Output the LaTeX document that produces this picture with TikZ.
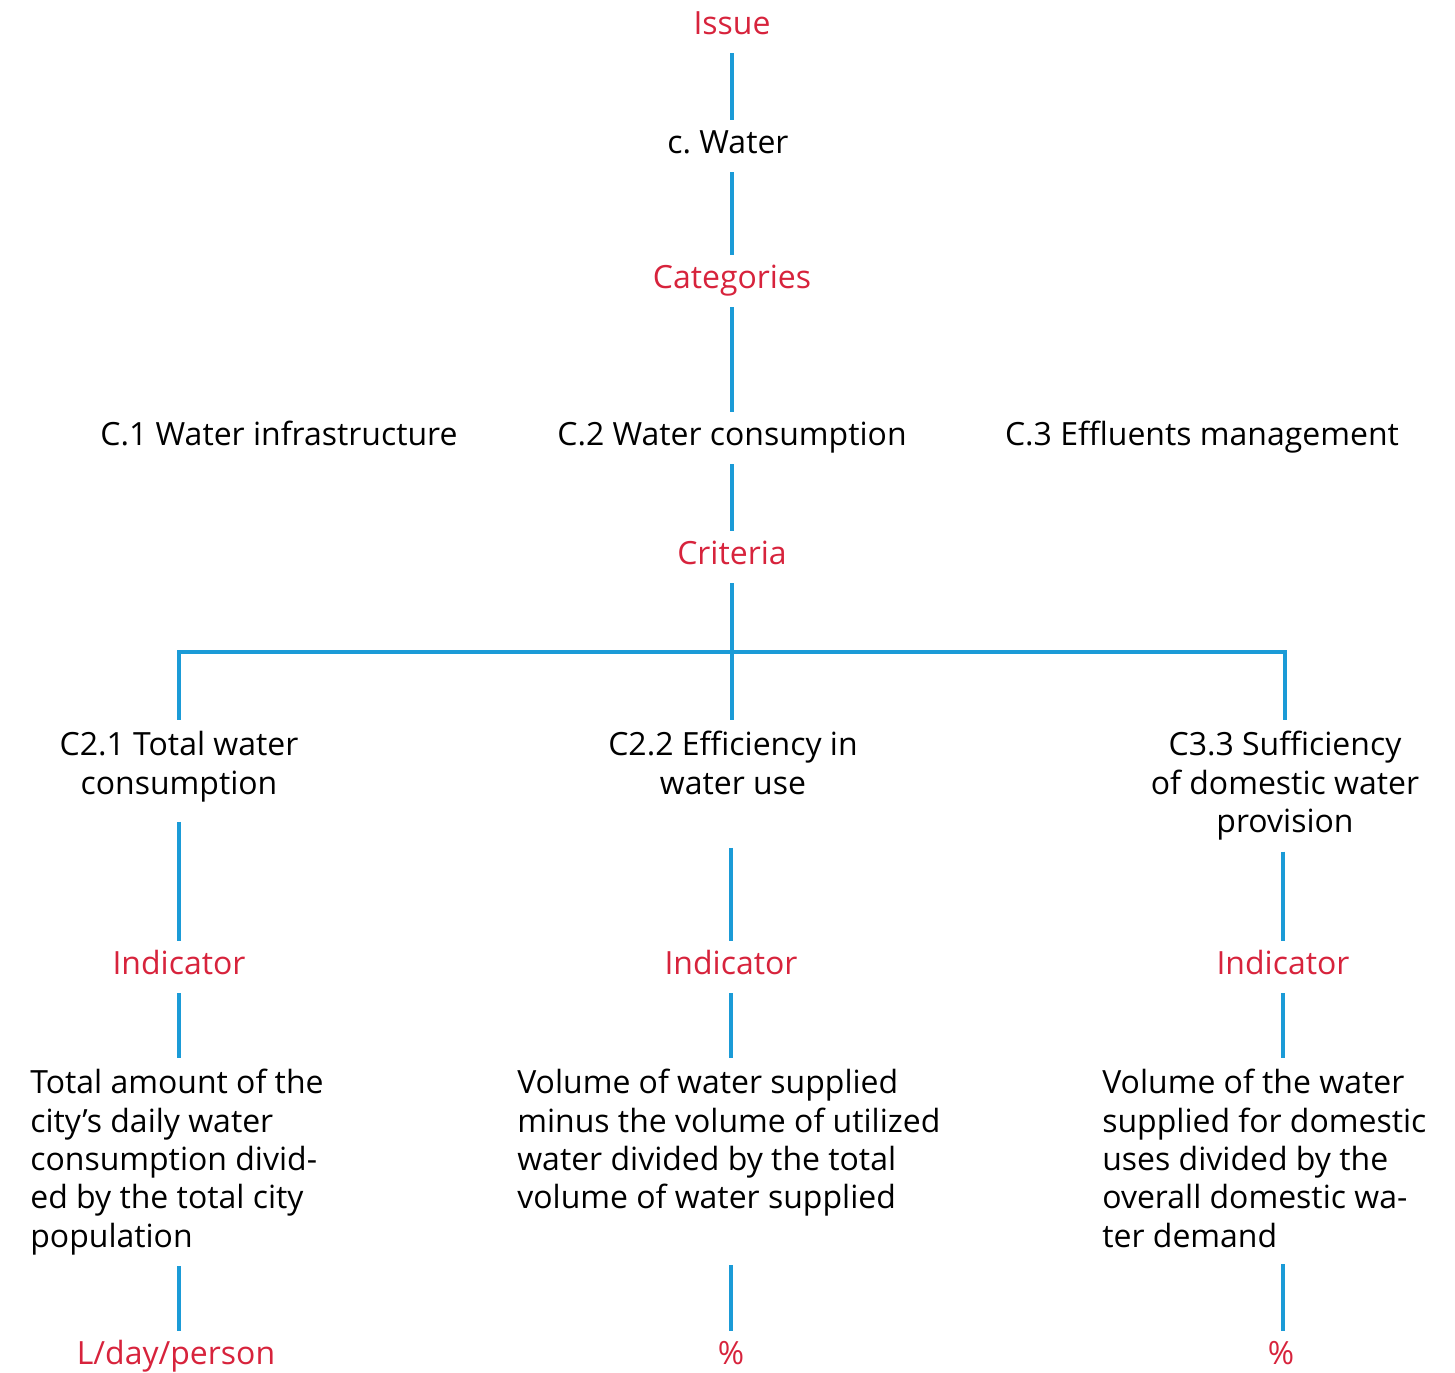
\documentclass[tikz,border=0pt]{standalone}
\usepackage{fontspec}
\setmainfont{Open Sans}
\usetikzlibrary{positioning,calc}
\definecolor{issuered}{RGB}{215,35,60}
\definecolor{linkblue}{RGB}{27,155,215}
\newcommand{\lblfont}{\fontsize{18.2}{21.8}\selectfont}

\begin{document}
\begin{tikzpicture}[x=0.02cm, y=-0.02cm,
    lvl/.style={font=\lblfont, text=issuered, inner xsep=0pt, inner ysep=6.3pt,
                text height=13pt, text depth=4pt},
    itm/.style={font=\lblfont, text=black, inner xsep=0pt, inner ysep=6.3pt,
                text height=13pt, text depth=4pt},
    crit/.style={font=\lblfont, text=black, align=center, inner xsep=0pt, inner ysep=6.3pt, anchor=north},
    desc/.style={font=\lblfont, text=black, align=left, inner xsep=0pt, inner ysep=6.3pt, anchor=north west},
    link/.style={draw=linkblue, line width=1.75pt}]
    \useasboundingbox (0,0) rectangle (1455,1373);
    % top of the tree
    \node[lvl] (issue) at (732,27) {Issue};
    \node[itm] (water) at (728,146) {c.\ Water};
    \node[lvl] (cats) at (732,281) {Categories};
    \node[itm] (c1) at (279,438) {C.1 Water infrastructure};
    \node[itm] (c2) at (732,438) {C.2 Water consumption};
    \node[itm] (c3) at (1202,438) {C.3 Effluents management};
    \node[lvl] (crit) at (732,557) {Criteria};
    \coordinate (fork) at (732,652);
    % criteria
    \node[crit] (c21) at (179,720) {C2.1 Total water\\consumption};
    \node[crit] (c22) at (733,720) {C2.2 Efficiency in\\water use};
    \node[crit] (c33) at (1285,720) {C3.3 Sufficiency\\of domestic water\\provision};
    % indicators
    \node[lvl] (ind1) at (179,967) {Indicator};
    \node[lvl] (ind2) at (731,967) {Indicator};
    \node[lvl] (ind3) at (1283,967) {Indicator};
    \node[desc] (blk1) at (30,1058) {Total amount of the\\city’s daily water\\consumption divid-\\ed by the total city\\population};
    \node[desc] (blk2) at (517,1058) {Volume of water supplied\\minus the volume of utilized\\water divided by the total\\volume of water supplied};
    \node[desc] (blk3) at (1102,1058) {Volume of the water\\supplied for domestic\\uses divided by the\\overall domestic wa-\\ter demand};
    % units
    \node[lvl] (unit1) at (176,1357) {L/day/person};
    \node[lvl] (unit2) at (731,1357) {\%};
    \node[lvl] (unit3) at (1281,1357) {\%};

    \draw[link] (issue) -- (issue |- water.north);
    \draw[link] (issue |- water.south) -- (cats);
    \draw[link] (cats) -- (c2);
    \draw[link] (c2) -- (crit);
    \draw[link] (crit) -- (fork);
    \draw[link] (fork) -| (c21.north);
    \draw[link] (fork) -| (c33.north);
    \draw[link] (fork) -- (fork |- c22.north);
    \draw[link, shorten <=5pt] (c21.south) -- (ind1);
    \draw[link, shorten <=0.84cm] (c22.south -| ind2) -- (ind2);
    \draw[link] (c33.south -| ind3) -- (ind3);
    \draw[link] (ind1) -- (ind1 |- blk1.north);
    \draw[link] (ind2) -- (ind2 |- blk2.north);
    \draw[link] (ind3) -- (ind3 |- blk3.north);
    \draw[link] (ind1 |- blk1.south) -- (ind1 |- unit1.north);
    \draw[link, shorten <=0.75cm] (ind2 |- blk2.south) -- (ind2 |- unit2.north);
    \draw[link, shorten <=3pt] (ind3 |- blk3.south) -- (ind3 |- unit3.north);
\end{tikzpicture}
\end{document}
